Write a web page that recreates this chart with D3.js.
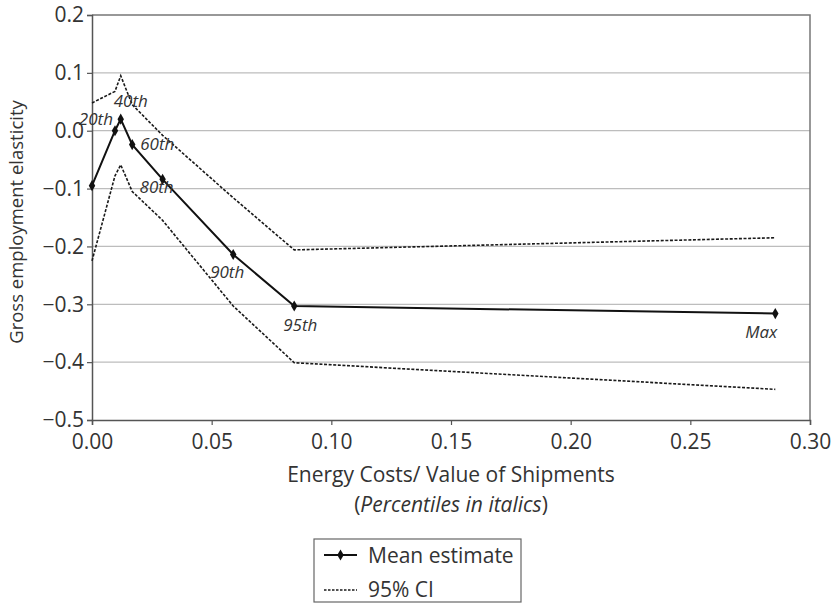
<!DOCTYPE html>
<html>
<head>
<meta charset="utf-8">
<script src="https://cdn.jsdelivr.net/npm/d3@7"></script>
<style>
  body { margin: 0; background: #fff; }
  svg { display: block; font-family: "Open Sans", sans-serif; }
</style>
</head>
<body>
<svg id="chart" width="834" height="604"></svg>
<script>
// percentile points along energy cost share
const pctLabels = ['', '20th', '40th', '60th', '80th', '90th', '95th', 'Max'];
const energyShare = [0, 0.0096, 0.012, 0.0168, 0.0295, 0.0590, 0.0845, 0.2855];
const meanEst = [-0.095, 0.000, 0.020, -0.024, -0.084, -0.214, -0.303, -0.316];
const ciUpper = [0.048, 0.068, 0.095, 0.045, -0.008, -0.116, -0.206, -0.185];
const ciLower = [-0.225, -0.078, -0.059, -0.105, -0.155, -0.303, -0.401, -0.447];

const yTicks = [-0.5, -0.4, -0.3, -0.2, -0.1, 0.0, 0.1, 0.2];
const xTicks = [0, 0.05, 0.10, 0.15, 0.20, 0.25, 0.30];

// label placement (dx, dy, anchor) per percentile
const labelPos = [
  null,
  [-2, -6, 'end'],
  [10, -12, 'middle'],
  [8, 5, 'start'],
  [-6, 14, 'middle'],
  [-6, 23, 'middle'],
  [6, 25, 'middle'],
  [2, 24, 'end']
];

const ink = '#333';
const svg = d3.select('#chart');
const x = d3.scaleLinear().domain([0, 0.3]).range([92, 810]);
const y = d3.scaleLinear().domain([-0.5, 0.2]).range([420, 15]);

// gridlines
svg.append('g').selectAll('line').data(yTicks.slice(1, -1)).join('line')
  .attr('x1', x(0)).attr('x2', x(0.3))
  .attr('y1', d => y(d)).attr('y2', d => y(d))
  .attr('stroke', '#bdbdbd').attr('stroke-width', 1.2);

// plot frame (top + right)
svg.append('path')
  .attr('d', `M${x(0)},${y(0.2)}H${x(0.3)}V${y(-0.5)}`)
  .attr('fill', 'none').attr('stroke', '#777').attr('stroke-width', 1.5);

// axes
const yAxis = svg.append('g').attr('transform', `translate(${x(0)},0)`)
  .call(d3.axisLeft(y).tickValues(yTicks).tickFormat(d3.format('.1f')).tickSize(5).tickPadding(3));
const xAxis = svg.append('g').attr('transform', `translate(0,${y(-0.5)})`)
  .call(d3.axisBottom(x).tickValues(xTicks).tickFormat(d3.format('.2f')).tickSize(5).tickPadding(7));
[yAxis, xAxis].forEach(a => {
  a.select('.domain').attr('stroke', '#555').attr('stroke-width', 1.5);
  a.selectAll('.tick line').attr('stroke', '#555').attr('stroke-width', 1.2);
  a.selectAll('.tick text').attr('fill', ink).style('font-size', '21px').style('font-family', '"Open Sans", sans-serif');
});
xAxis.selectAll('.tick text').attr('dy', '0.8em');

// CI lines
const pts = arr => arr.map((v, i) => [energyShare[i], v]);
const line = d3.line().x(d => x(d[0])).y(d => y(d[1]));
[ciUpper, ciLower].forEach(arr => {
  svg.append('path').attr('d', line(pts(arr)))
    .attr('fill', 'none').attr('stroke', '#1a1a1a').attr('stroke-width', 1.6)
    .attr('stroke-dasharray', '3,1.6');
});

// mean estimate
svg.append('path').attr('d', line(pts(meanEst)))
  .attr('fill', 'none').attr('stroke', '#111').attr('stroke-width', 2);
const diamond = d3.symbol().type(d3.symbolDiamond).size(36);
svg.append('g').selectAll('path').data(pts(meanEst)).join('path')
  .attr('transform', d => `translate(${x(d[0])},${y(d[1])})`)
  .attr('d', diamond).attr('fill', '#111');

// percentile labels
svg.append('g').selectAll('text').data(pctLabels.map((t, i) => ({ t, i })).filter(d => d.t))
  .join('text')
  .attr('x', d => x(energyShare[d.i]) + labelPos[d.i][0])
  .attr('y', d => y(meanEst[d.i]) + labelPos[d.i][1])
  .attr('text-anchor', d => labelPos[d.i][2])
  .attr('fill', ink).style('font-size', '17px').style('font-style', 'italic')
  .text(d => d.t);

// axis titles
svg.append('text')
  .attr('transform', 'translate(23,222) rotate(-90)')
  .attr('text-anchor', 'middle').attr('fill', ink).style('font-size', '18.5px')
  .text('Gross employment elasticity');
svg.append('text').attr('x', x(0.15)).attr('y', 482)
  .attr('text-anchor', 'middle').attr('fill', ink).style('font-size', '21px')
  .text('Energy Costs/ Value of Shipments');
const sub = svg.append('text').attr('x', x(0.15)).attr('y', 512)
  .attr('text-anchor', 'middle').attr('fill', ink).style('font-size', '21px');
sub.append('tspan').text('(');
sub.append('tspan').style('font-style', 'italic').text('Percentiles in italics');
sub.append('tspan').text(')');

// legend
const lg = svg.append('g').attr('transform', 'translate(314,539)');
lg.append('rect').attr('width', 207).attr('height', 63)
  .attr('fill', '#fff').attr('stroke', '#666').attr('stroke-width', 1.2);
lg.append('line').attr('x1', 10).attr('x2', 43).attr('y1', 16).attr('y2', 16)
  .attr('stroke', '#111').attr('stroke-width', 1.8);
lg.append('path').attr('transform', 'translate(26.5,16)').attr('d', diamond).attr('fill', '#111');
lg.append('line').attr('x1', 10).attr('x2', 43).attr('y1', 51).attr('y2', 51)
  .attr('stroke', '#1a1a1a').attr('stroke-width', 1.4).attr('stroke-dasharray', '2.5,1.5');
lg.append('text').attr('x', 54).attr('y', 24).attr('fill', ink).style('font-size', '21px').text('Mean estimate');
lg.append('text').attr('x', 54).attr('y', 58).attr('fill', ink).style('font-size', '21px').text('95% CI');
</script>
</body>
</html>
